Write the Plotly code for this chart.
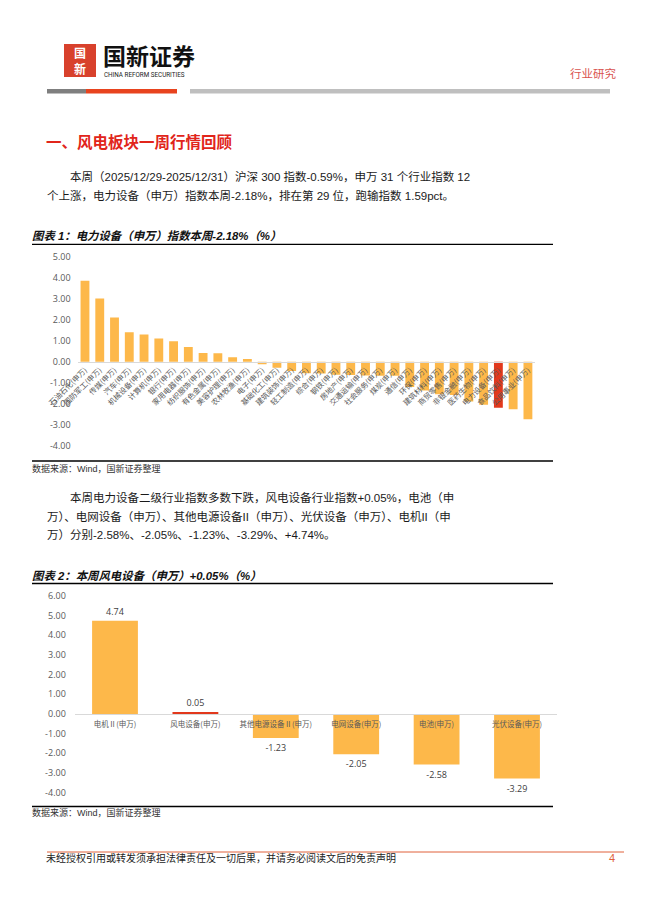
import plotly.graph_objects as go

W, H = 662, 914

# ---------------- data ----------------
cats1 = ["石油石化(申万)", "国防军工(申万)", "传媒(申万)", "汽车(申万)", "机械设备(申万)",
         "计算机(申万)", "银行(申万)", "家用电器(申万)", "纺织服饰(申万)", "有色金属(申万)",
         "美容护理(申万)", "农林牧渔(申万)", "电子(申万)", "基础化工(申万)", "建筑装饰(申万)",
         "轻工制造(申万)", "综合(申万)", "钢铁(申万)", "房地产(申万)", "交通运输(申万)",
         "社会服务(申万)", "煤炭(申万)", "通信(申万)", "环保(申万)", "建筑材料(申万)",
         "商贸零售(申万)", "非银金融(申万)", "医药生物(申万)", "电力设备(申万)", "食品饮料(申万)",
         "公用事业(申万)"]
vals1 = [3.85, 3.00, 2.10, 1.40, 1.30, 1.10, 0.97, 0.70, 0.42, 0.41,
         0.22, 0.13, -0.12, -0.28, -0.44, -0.55, -0.56, -0.62, -0.63, -0.65,
         -0.66, -0.66, -1.20, -1.37, -1.54, -1.58, -1.89, -2.04, -2.18, -2.25,
         -2.73]
highlight1 = "电力设备(申万)"
y1_ticks = [5, 4, 3, 2, 1, 0, -1, -2, -3, -4]
y1_ticktext = ["5.00", "4.00", "3.00", "2.00", "1.00", "0.00", "-1.00", "-2.00", "-3.00", "-4.00"]

cats2 = ["电机Ⅱ(申万)", "风电设备(申万)", "其他电源设备Ⅱ(申万)", "电网设备(申万)", "电池(申万)", "光伏设备(申万)"]
vals2 = [4.74, 0.05, -1.23, -2.05, -2.58, -3.29]
highlight2 = "风电设备(申万)"
y2_ticks = [6, 5, 4, 3, 2, 1, 0, -1, -2, -3, -4]
y2_ticktext = ["6.00", "5.00", "4.00", "3.00", "2.00", "1.00", "0.00", "-1.00", "-2.00", "-3.00", "-4.00"]

# ---------------- styles ----------------
ORANGE = "#FDB84A"
RED = "#E2381C"
GRAY_T = "#595959"
CN = "Liberation Sans, Noto Sans CJK SC"


def px(x):
    return x / W


def py(y):
    return 1 - y / H


fig = go.Figure()

colors1 = [RED if c == highlight1 else ORANGE for c in cats1]
fig.add_trace(go.Bar(x=cats1, y=vals1, marker=dict(color=colors1, line=dict(width=0)),
                     width=0.6, xaxis="x", yaxis="y", showlegend=False, hoverinfo="x+y"))

colors2 = [RED if c == highlight2 else ORANGE for c in cats2]
fig.add_trace(go.Bar(x=cats2, y=vals2, marker=dict(color=colors2, line=dict(width=0)),
                     width=0.57, xaxis="x2", yaxis="y2", showlegend=False,
                     text=[f"{v:.2f}" for v in vals2], textposition="outside",
                     textfont=dict(size=9, color="#404040", family="Open Sans"),
                     cliponaxis=False, hoverinfo="x+y"))

# axis geometry
y1_dom = [py(446), py(256.5)]
y1_rng = [-4, 5]
zero1 = y1_dom[0] + (0 - y1_rng[0]) / (y1_rng[1] - y1_rng[0]) * (y1_dom[1] - y1_dom[0])
y2_dom = [py(792.5), py(596)]
y2_rng = [-4, 6]
zero2 = y2_dom[0] + (0 - y2_rng[0]) / (y2_rng[1] - y2_rng[0]) * (y2_dom[1] - y2_dom[0])

fig.update_layout(
    width=W, height=H, autosize=False,
    margin=dict(l=0, r=0, t=0, b=0, pad=0, autoexpand=False),
    showlegend=False,
    paper_bgcolor="white", plot_bgcolor="rgba(0,0,0,0)",
    xaxis=dict(domain=[px(77.6), px(535.3)], anchor="free", position=zero1,
               type="category", range=[-0.5, len(cats1) - 0.5], tickangle=-45,
               tickfont=dict(size=7.5, color=GRAY_T, family="Noto Sans CJK SC"),
               showline=True, linecolor="#D9D9D9", linewidth=1, ticks="",
               showgrid=False, zeroline=False, fixedrange=True, automargin=False),
    yaxis=dict(domain=y1_dom, range=y1_rng, anchor="x", tickvals=y1_ticks, ticktext=y1_ticktext,
               tickfont=dict(size=9, color=GRAY_T, family="Open Sans"),
               showgrid=False, zeroline=False, showline=False, ticks="",
               ticklabelstandoff=6, fixedrange=True, automargin=False),
    xaxis2=dict(domain=[px(74.8), px(557.2)], anchor="free", position=zero2,
                type="category", range=[-0.5, len(cats2) - 0.5], tickangle=0,
                tickfont=dict(size=7.5, color=GRAY_T, family="Noto Sans CJK SC"),
                showline=True, linecolor="#D9D9D9", linewidth=1, ticks="",
                showgrid=False, zeroline=False, ticklabelstandoff=3, fixedrange=True,
                automargin=False),
    yaxis2=dict(domain=y2_dom, range=y2_rng, anchor="x2", tickvals=y2_ticks, ticktext=y2_ticktext,
                tickfont=dict(size=9, color=GRAY_T, family="Open Sans"),
                showgrid=False, zeroline=False, showline=False, ticks="",
                ticklabelstandoff=8, fixedrange=True, automargin=False),
)

shapes = []


def rect(x0, y0, x1, y1, color):
    shapes.append(dict(type="rect", xref="paper", yref="paper", x0=px(x0), x1=px(x1),
                       y0=py(y1), y1=py(y0), fillcolor=color, line=dict(width=0), layer="above"))


def hline(x0, x1, y, color, w):
    shapes.append(dict(type="line", xref="paper", yref="paper", x0=px(x0), x1=px(x1),
                       y0=py(y), y1=py(y), line=dict(color=color, width=w)))


# logo + header bars
rect(64, 44, 96, 77, "#D8412C")
rect(47, 89, 86, 93.5, "#7F7F7F")
rect(86, 89, 177, 93.5, "#E8431E")
rect(190, 89, 610, 93.5, "#BFBFBF")
# chart frame lines
hline(32, 553, 244.3, "black", 1.3)
hline(32, 553, 461, "black", 1.3)
hline(32, 553, 583.5, "black", 1.3)
hline(32, 553, 806.5, "black", 1.3)
# footer line
hline(47, 624, 852, "#E0603A", 1)

ann = []


def text(x, y, s, size, color="#1A1A1A", family=CN, xanchor="left"):
    ann.append(dict(x=px(x), y=py(y), xref="paper", yref="paper", text=s, showarrow=False,
                    xanchor=xanchor, yanchor="middle", align="left", borderpad=0,
                    font=dict(size=size, color=color, family=family)))


text(80, 52.5, "<b>国</b>", 12, "white", "Noto Sans CJK SC", "center")
text(80, 68.5, "<b>新</b>", 12, "white", "Noto Sans CJK SC", "center")
text(102, 55.5, "<b>国新证券</b>", 23, "#111111", "Noto Sans CJK SC")
text(103, 75.5, "CHINA REFORM SECURITIES", 6.3, "#222222", "Liberation Sans Narrow, Roboto")
text(569, 73, "行业研究", 11.5, "#D9534F", "Noto Sans CJK SC")

text(45, 141, "<b>一、风电板块一周行情回顾</b>", 15.5, "#E1251B", "Noto Sans CJK SC")

text(69, 177, "本周（2025/12/29-2025/12/31）沪深 300 指数-0.59%，申万 31 个行业指数 12", 11.5)
text(46, 196, "个上涨，电力设备（申万）指数本周-2.18%，排在第 29 位，跑输指数 1.59pct。", 11.5)

text(31, 236, "<b><i>图表 1：电力设备（申万）指数本周-2.18%（%）</i></b>", 11.4, "#111111")
text(31, 468, "数据来源：Wind，国新证券整理", 9, "#333333")

text(69, 497, "本周电力设备二级行业指数多数下跌，风电设备行业指数+0.05%，电池（申", 11.5)
text(46, 516, "万）、电网设备（申万）、其他电源设备II（申万）、光伏设备（申万）、电机II（申", 11.5)
text(46, 535, "万）分别-2.58%、-2.05%、-1.23%、-3.29%、+4.74%。", 11.5)

text(31, 576, "<b><i>图表 2：本周风电设备（申万）+0.05%（%）</i></b>", 11.4, "#111111")
text(31, 812, "数据来源：Wind，国新证券整理", 9, "#333333")

text(45, 858, "未经授权引用或转发须承担法律责任及一切后果，并请务必阅读文后的免责声明", 10, "#222222")
text(616, 858, "4", 11, "#E0603A", "Liberation Sans", "right")

fig.update_layout(shapes=shapes, annotations=ann)

fig.write_html("out.html", config={"displayModeBar": False},
               post_script="document.body.style.margin='0';")
